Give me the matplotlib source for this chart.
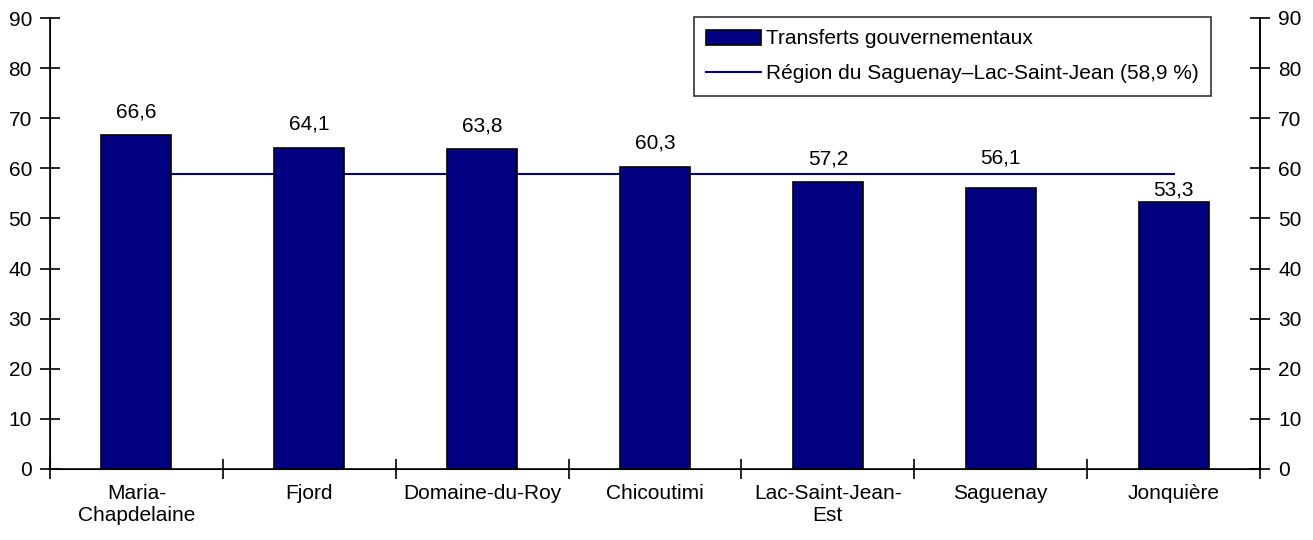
import matplotlib.pyplot as plt
import numpy as np

plt.rcParams['font.family'] = ['Liberation Sans', 'DejaVu Sans']

regions = ["Maria-\nChapdelaine", "Fjord", "Domaine-du-Roy", "Chicoutimi",
           "Lac-Saint-Jean-\nEst", "Saguenay", "Jonquière"]
transferts = [66.6, 64.1, 63.8, 60.3, 57.2, 56.1, 53.3]
moyenne_region = 58.9

# décalage vertical des étiquettes (unités de l'axe), comme dans l'original
label_offsets = [4.7, 4.7, 4.7, 4.7, 4.7, 6.0, 2.4]

navy = "#000080"
fs = 15

fig = plt.figure(figsize=(13.13, 5.4), dpi=100)
ax = fig.add_axes([50 / 1313, 71 / 540, 1210 / 1313, 451 / 540])

x = np.arange(len(regions))
ax.plot([x[0], x[-1]], [moyenne_region] * 2, color=navy, lw=1.5, zorder=1,
        label="Région du Saguenay–Lac-Saint-Jean (58,9 %)")
ax.bar(x, transferts, width=0.405, color=navy, edgecolor="black",
       linewidth=1.2, zorder=2, label="Transferts gouvernementaux")

for xi, v, off in zip(x, transferts, label_offsets):
    ax.text(xi, v + off, f"{v:.1f}".replace(".", ","), ha="center", va="center", fontsize=fs)

ax.set_xlim(-0.5, len(regions) - 0.5)
ax.set_ylim(0, 90)
ax.set_yticks(range(0, 91, 10))
ax.set_xticks(np.arange(-0.5, len(regions), 1.0))
ax.set_xticklabels([])
ax.set_xticks(x, minor=True)
ax.set_xticklabels(regions, minor=True, fontsize=fs)
ax.tick_params(axis="x", which="minor", length=0, pad=11)
ax.tick_params(axis="x", which="major", direction="inout", length=14, width=1.2)
ax.tick_params(axis="y", direction="inout", length=14, width=1.2, labelsize=fs, pad=6)
ax.spines["top"].set_visible(False)
for s in ["left", "right", "bottom"]:
    ax.spines[s].set_linewidth(1.2)

ax2 = ax.twinx()
ax2.set_ylim(0, 90)
ax2.set_yticks(range(0, 91, 10))
ax2.tick_params(axis="y", direction="inout", length=14, width=1.2, labelsize=fs, pad=6)
ax2.spines["top"].set_visible(False)
ax2.spines["right"].set_linewidth(1.2)

handles, labels = ax.get_legend_handles_labels()
leg = ax.legend(handles[::-1], labels[::-1], loc="upper right",
                bbox_to_anchor=(1211 / 1313, 523 / 540), bbox_transform=fig.transFigure,
                fontsize=fs, frameon=True, fancybox=False, edgecolor="black",
                handlelength=2.6, handletextpad=0.25, borderpad=0.6, labelspacing=0.75,
                borderaxespad=0)
leg.get_frame().set_linewidth(1.2)

fig.savefig("out.png", dpi=100)
